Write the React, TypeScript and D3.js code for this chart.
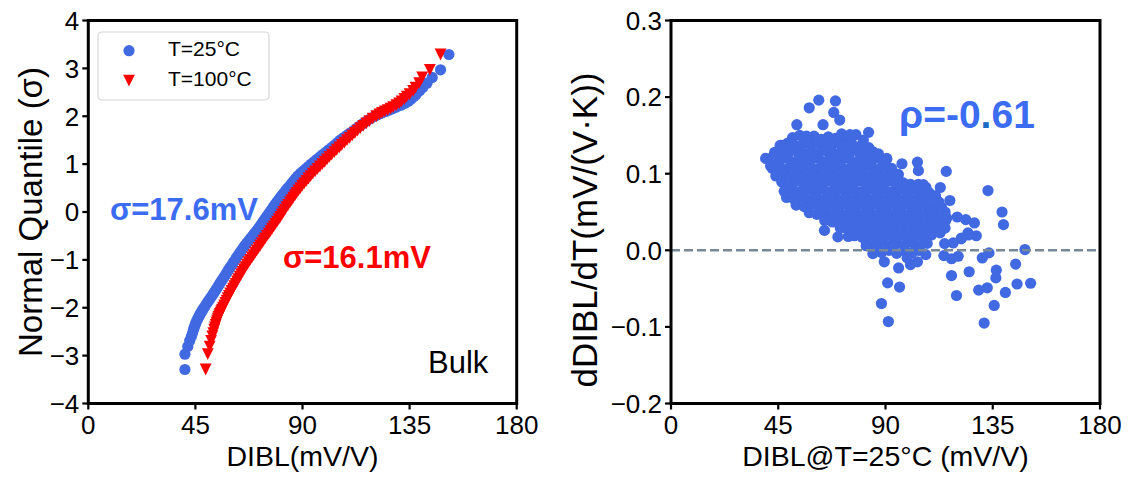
import React from 'react';
import * as d3 from 'd3';

const W = 1135;
const H = 478;
const FONT = "'Liberation Sans', Arial, Helvetica, sans-serif";

const BLUE = '#4169E1';
const BLUE_TEXT = '#3b6cf2';
const RED = '#ff0000';

// Normal quantiles (σ) of the ranked devices
const quantiles = [
  -3.29, -2.97, -2.81, -2.69, -2.6, -2.53, -2.46, -2.41, -2.36, -2.31, -2.27, -2.23, -2.19, -2.16, -2.13, -2.1, -2.07, -2.04,
  -2.0, -1.95, -1.9, -1.85, -1.8, -1.75, -1.7, -1.65, -1.6, -1.55, -1.5, -1.45, -1.4, -1.35, -1.3, -1.25, -1.2, -1.15, -1.1, -1.05,
  -1.0, -0.95, -0.9, -0.85, -0.8, -0.75, -0.7, -0.65, -0.6, -0.55, -0.5, -0.45, -0.4, -0.35, -0.3, -0.25, -0.2, -0.15, -0.1, -0.05,
  0.0, 0.05, 0.1, 0.15, 0.2, 0.25, 0.3, 0.35, 0.4, 0.45, 0.5, 0.55, 0.6, 0.65, 0.7, 0.75, 0.8, 0.85, 0.9, 0.95,
  1.0, 1.05, 1.1, 1.15, 1.2, 1.25, 1.3, 1.35, 1.4, 1.45, 1.5, 1.55, 1.6, 1.65, 1.7, 1.75, 1.8, 1.85, 1.9, 1.95, 2.0,
  2.04, 2.07, 2.1, 2.13, 2.16, 2.19, 2.23, 2.27, 2.31, 2.36, 2.41, 2.46, 2.53, 2.6, 2.69, 2.81, 2.97, 3.29,
];

// Sorted DIBL (mV/V) at T=25°C
const dibl25 = [
  40.6, 40.6, 41.8, 42.6, 43.3, 43.8, 44.2, 44.5, 44.9, 45.2, 45.6, 46.0, 46.4, 46.7, 47.0, 47.4, 47.8, 48.1,
  48.6, 49.3, 49.9, 50.6, 51.3, 52.0, 52.6, 53.3, 53.9, 54.6, 55.2, 55.8, 56.5, 57.1, 57.8, 58.4, 59.0, 59.7, 60.4, 61.0,
  61.7, 62.3, 63.0, 63.7, 64.4, 65.1, 65.8, 66.6, 67.4, 68.2, 69.0, 69.8, 70.6, 71.4, 72.1, 72.8, 73.5, 74.2, 74.9, 75.6,
  76.3, 77.0, 77.7, 78.4, 79.1, 79.9, 80.6, 81.4, 82.2, 83.0, 83.8, 84.7, 85.5, 86.3, 87.1, 88.0, 89.0, 90.2, 91.3, 92.5,
  93.6, 94.8, 96.0, 97.3, 98.5, 99.8, 101.0, 102.3, 103.5, 104.7, 105.8, 107.2, 108.6, 110.0, 111.4, 112.8, 114.2, 115.5, 117.0, 118.6, 120.3,
  122.0, 123.5, 125.0, 126.5, 128.0, 129.5, 131.3, 133.0, 134.5, 135.7, 136.8, 137.8, 139.2, 140.5, 142.3, 144.5, 148.0, 151.5,
];

// Sorted DIBL (mV/V) at T=100°C
const dibl100 = [
  49.3, 50.2, 51.0, 51.6, 52.1, 52.5, 52.9, 53.2, 53.5, 53.8, 54.1, 54.4, 54.7, 55.0, 55.3, 55.6, 55.9, 56.2,
  56.6, 57.1, 57.6, 58.1, 58.6, 59.1, 59.6, 60.2, 60.8, 61.3, 61.9, 62.5, 63.0, 63.6, 64.2, 64.8, 65.4, 66.0, 66.7, 67.3,
  68.0, 68.7, 69.4, 70.1, 70.8, 71.5, 72.2, 72.9, 73.6, 74.3, 75.0, 75.8, 76.5, 77.2, 77.9, 78.6, 79.3, 80.0, 80.7, 81.3,
  82.0, 82.6, 83.3, 84.0, 84.7, 85.4, 86.1, 86.8, 87.5, 88.3, 89.1, 89.9, 90.7, 91.6, 92.5, 93.4, 94.3, 95.3, 96.3, 97.3,
  98.3, 99.3, 100.3, 101.3, 102.3, 103.4, 104.4, 105.5, 106.5, 107.6, 108.7, 109.8, 110.9, 112.0, 113.1, 114.3, 115.5, 116.8, 118.1, 119.5, 121.0,
  122.3, 123.4, 124.6, 125.8, 127.0, 128.1, 129.4, 130.6, 131.6, 132.8, 133.8, 135.0, 136.5, 137.5, 139.0, 140.3, 143.5, 148.0,
];

// DIBL@25°C (mV/V) vs dDIBL/dT (mV/(V·K)) — isolated devices
const scatterSparse: [number, number][] = [
  [39.7, 0.12], [41.8, 0.11], [44.4, 0.099], [42.9, 0.1226], [45.8, 0.137], [52.8, 0.164], [58.0, 0.186], [62.0, 0.196],
  [69.0, 0.195], [68.3, 0.18], [70.8, 0.17], [63.8, 0.164], [71.6, 0.152], [77.6, 0.151], [82.9, 0.154], [96.9, 0.113],
  [103.4, 0.115], [103.8, 0.104], [115.5, 0.103], [113.0, 0.082], [117.0, 0.065], [133.0, 0.078], [138.9, 0.05], [139.5, 0.0335],
  [120.1, 0.0435], [123.7, 0.04], [127.3, 0.0357], [124.6, 0.0227], [128.1, 0.019], [121.7, 0.0149], [114.8, 0.0087], [118.4, 0.0096],
  [64.4, 0.026], [70.0, 0.0175], [74.4, 0.018], [148.5, 0.001], [144.6, -0.018], [136.5, -0.026], [136.3, -0.036], [133.4, -0.0034],
  [130.6, -0.01], [125.1, -0.028], [117.7, -0.033], [119.8, -0.059], [120.5, -0.0078], [117.7, -0.011], [114.5, -0.0069], [129.1, -0.052],
  [132.7, -0.049], [140.3, -0.055], [145.2, -0.044], [150.9, -0.043], [135.6, -0.072], [131.4, -0.095], [90.9, -0.0425], [95.9, -0.048],
  [88.3, -0.0695], [91.2, -0.093], [95.5, -0.023], [89.5, -0.015], [84.7, -0.0043], [100.5, -0.0186], [103.4, -0.015], [106.9, -0.0056],
  [99.1, -0.0099], [121.9, 0.016], [124.8, 0.02], [81.9, 0.006], [87.6, 0.0096], [93.3, 0.0074], [50.6, 0.14], [56.9, 0.149],
  [75.1, 0.151], [80.7, 0.144], [105.9, 0.0857], [109.4, 0.066], [113.6, 0.051], [115.7, 0.042], [115.0, 0.029], [112.9, 0.0227],
  [90.5, 0.12], [95.4, 0.099], [92.6, 0.107],
];

// DIBL@25°C (mV/V) vs dDIBL/dT (mV/(V·K)) — main population
const scatterDense: [number, number][] = [
  [51, 0.147], [54, 0.15], [57, 0.146], [60, 0.149], [63, 0.145], [66, 0.148], [69, 0.146], [73, 0.147], [75.5, 0.144],
  [46.5, 0.137], [49, 0.14], [52.3, 0.136], [55.5, 0.139], [58.6, 0.137], [61.8, 0.14], [65, 0.136], [68.2, 0.139], [71.4, 0.137],
  [74.6, 0.138], [77.8, 0.135], [80.5, 0.139], [83, 0.134],
  [43.5, 0.128], [46, 0.131], [49.2, 0.127], [52.5, 0.13], [55.7, 0.126], [58.9, 0.129], [62.1, 0.127], [65.3, 0.13], [68.6, 0.126],
  [71.8, 0.129], [75, 0.127], [78.2, 0.13], [81.4, 0.126], [84.6, 0.129], [87, 0.126],
  [41, 0.119], [44, 0.117], [47.1, 0.12], [50.3, 0.116], [53.5, 0.119], [56.7, 0.117], [60, 0.12], [63.2, 0.116], [66.4, 0.119],
  [69.6, 0.117], [72.8, 0.12], [76, 0.116], [79.3, 0.119], [82.5, 0.117], [85.7, 0.12], [88.9, 0.116], [90.5, 0.119],
  [42.5, 0.107], [45.4, 0.11], [48.6, 0.106], [51.8, 0.109], [55, 0.107], [58.2, 0.11], [61.5, 0.106], [64.7, 0.109], [67.9, 0.107],
  [71.1, 0.11], [74.3, 0.106], [77.5, 0.109], [80.8, 0.107], [84, 0.11], [87.2, 0.106], [90.4, 0.109], [92.5, 0.105],
  [44, 0.097], [46.8, 0.1], [50, 0.096], [53.2, 0.099], [56.4, 0.097], [59.6, 0.1], [62.9, 0.096], [66.1, 0.099], [69.3, 0.097],
  [72.5, 0.1], [75.7, 0.096], [79, 0.099], [82.2, 0.097], [85.4, 0.1], [88.6, 0.096], [91.8, 0.099], [94.5, 0.097],
  [46.5, 0.089], [49.4, 0.087], [52.6, 0.09], [55.8, 0.086], [59, 0.089], [62.3, 0.087], [65.5, 0.09], [68.7, 0.086], [71.9, 0.089],
  [75.1, 0.087], [78.4, 0.09], [81.6, 0.086], [84.8, 0.089], [88, 0.087], [91.2, 0.09], [94.5, 0.086], [97.5, 0.088], [100.5, 0.086],
  [103.8, 0.086], [107, 0.082],
  [47.5, 0.077], [50.5, 0.08], [53.7, 0.076], [56.9, 0.079], [60.1, 0.077], [63.4, 0.08], [66.6, 0.076], [69.8, 0.079], [73, 0.077],
  [76.2, 0.08], [79.5, 0.076], [82.7, 0.079], [85.9, 0.077], [89.1, 0.08], [92.3, 0.076], [95.6, 0.079], [98.8, 0.077], [102, 0.08],
  [105.2, 0.076], [108.4, 0.075], [111, 0.071],
  [48.5, 0.069], [51.6, 0.067], [54.8, 0.07], [58, 0.066], [61.2, 0.069], [64.5, 0.067], [67.7, 0.07], [70.9, 0.066], [74.1, 0.069],
  [77.3, 0.067], [80.6, 0.07], [83.8, 0.066], [87, 0.069], [90.2, 0.067], [93.4, 0.07], [96.7, 0.066], [99.9, 0.069], [103.1, 0.067],
  [106.3, 0.068], [109.5, 0.066], [112.4, 0.063],
  [52.5, 0.059], [55.9, 0.057], [59.1, 0.06], [62.3, 0.056], [65.6, 0.059], [68.8, 0.057], [72, 0.06], [75.2, 0.056], [78.4, 0.059],
  [81.7, 0.057], [84.9, 0.06], [88.1, 0.056], [91.3, 0.059], [94.5, 0.057], [97.8, 0.06], [101, 0.056], [104.2, 0.059], [107.4, 0.057],
  [110.6, 0.058], [113.5, 0.056],
  [58, 0.049], [61.2, 0.047], [64.4, 0.05], [67.6, 0.046], [70.8, 0.049], [74, 0.047], [77.3, 0.05], [80.5, 0.046], [83.7, 0.049],
  [86.9, 0.047], [90.1, 0.05], [93.4, 0.046], [96.6, 0.049], [99.8, 0.047], [103, 0.05], [106.2, 0.046], [109.5, 0.049], [112.7, 0.047],
  [115, 0.05],
  [64.5, 0.039], [67.7, 0.037], [70.9, 0.04], [74.1, 0.036], [77.4, 0.039], [80.6, 0.037], [83.8, 0.04], [87, 0.036], [90.2, 0.039],
  [93.5, 0.037], [96.7, 0.04], [99.9, 0.036], [103.1, 0.039], [106.3, 0.037], [109.6, 0.04], [112.8, 0.036], [115.2, 0.039],
  [71, 0.029], [74.2, 0.027], [77.5, 0.03], [80.7, 0.026], [83.9, 0.029], [87.1, 0.027], [90.3, 0.03], [93.6, 0.026], [96.8, 0.029],
  [100, 0.027], [103.2, 0.03], [106.4, 0.026], [109.7, 0.029], [112.5, 0.027],
  [77, 0.019], [80.3, 0.017], [83.5, 0.02], [86.7, 0.016], [89.9, 0.019], [93.2, 0.017], [96.4, 0.02], [99.6, 0.016], [102.8, 0.019],
  [106, 0.017], [109.3, 0.02],
  [82, 0.009], [85.2, 0.007], [88.4, 0.01], [91.6, 0.006], [94.8, 0.009], [98.1, 0.007], [101.3, 0.01], [104.5, 0.006], [107.5, 0.009],
  [85, -0.001], [88.3, -0.003], [91.5, 0.0], [94.7, -0.004], [98, -0.001], [101.2, -0.003], [104, 0.0],
];

const diblTicks = [0, 45, 90, 135, 180];
const quantileTicks = [-4, -3, -2, -1, 0, 1, 2, 3, 4];
const slopeTicks = [-0.2, -0.1, 0.0, 0.1, 0.2, 0.3];

const legendItems = [
  { label: 'T=25°C', color: BLUE, shape: 'circle' },
  { label: 'T=100°C', color: RED, shape: 'triangle' },
];

const TOP = 20.5;
const BOTTOM = 403.5;
const MARKER_R = 5.6;
const TICK_FS = 26;
const XTITLE_FS = 28.5;
const YTITLE_FS = 33;

const fmtMinus = (s: string) => s.replace('-', '\u2212');

function triPath(cx: number, cy: number, s: number) {
  return `M${cx - s},${cy - s}L${cx + s},${cy - s}L${cx},${cy + s}Z`;
}

function Frame({ x0, x1 }: { x0: number; x1: number }) {
  return (
    <rect x={x0} y={TOP} width={x1 - x0} height={BOTTOM - TOP} fill="none" stroke="#000" strokeWidth={3} />
  );
}

function XAxis({ scale, ticks }: { scale: d3.ScaleLinear<number, number>; ticks: number[] }) {
  return (
    <g>
      {ticks.map((t) => (
        <g key={t}>
          <line x1={scale(t)} x2={scale(t)} y1={BOTTOM} y2={BOTTOM + 6} stroke="#000" strokeWidth={2.2} />
          <text x={scale(t)} y={BOTTOM + 30} textAnchor="middle" fontSize={TICK_FS} fontFamily={FONT}>
            {String(t)}
          </text>
        </g>
      ))}
    </g>
  );
}

function YAxis({ scale, ticks, x0, fmt }: { scale: d3.ScaleLinear<number, number>; ticks: number[]; x0: number; fmt: (v: number) => string }) {
  return (
    <g>
      {ticks.map((t) => (
        <g key={t}>
          <line x1={x0 - 6} x2={x0} y1={scale(t)} y2={scale(t)} stroke="#000" strokeWidth={2.2} />
          <text x={x0 - 9} y={scale(t)} dy="0.36em" textAnchor="end" fontSize={TICK_FS} fontFamily={FONT}>
            {fmt(t)}
          </text>
        </g>
      ))}
    </g>
  );
}

export default function App() {
  // Left panel: normal quantile plot
  const lx = d3.scaleLinear().domain([0, 180]).range([88.3, 516.7]);
  const ly = d3.scaleLinear().domain([-4, 4]).range([BOTTOM, TOP]);
  // Right panel: temperature coefficient scatter
  const rx = d3.scaleLinear().domain([0, 180]).range([671, 1100]);
  const ry = d3.scaleLinear().domain([-0.2, 0.3]).range([BOTTOM, TOP]);

  const scatter = [...scatterDense, ...scatterSparse];

  return (
    <svg width={W} height={H} style={{ position: 'absolute', left: 0, top: 0, background: '#fff' }}>
      {/* ---------- left panel ---------- */}
      <g>
        {quantiles.map((q, i) => (
          <circle key={`b${i}`} cx={lx(dibl25[i])} cy={ly(q)} r={MARKER_R} fill={BLUE} />
        ))}
        {quantiles.map((q, i) => (
          <path key={`r${i}`} d={triPath(lx(dibl100[i]), ly(q), 5.9)} fill={RED} />
        ))}
        <Frame x0={88.3} x1={516.7} />
        <XAxis scale={lx} ticks={diblTicks} />
        <YAxis scale={ly} ticks={quantileTicks} x0={88.3} fmt={(v) => fmtMinus(String(v))} />

        <text x={110} y={220} fontSize={31} fontWeight="bold" fill={BLUE_TEXT} fontFamily={FONT}>σ=17.6mV</text>
        <text x={283} y={268} fontSize={31} fontWeight="bold" fill={RED} fontFamily={FONT}>σ=16.1mV</text>
        <text x={428} y={373} fontSize={31} fill="#000" fontFamily={FONT}>Bulk</text>

        <rect x={98} y={32} width={171} height={68} rx={4} fill="#fff" fillOpacity={0.85} stroke="#d6d6d6" strokeWidth={1.2} />
        {legendItems.map((it, i) => (
          <g key={it.label}>
            {it.shape === 'circle' ? (
              <circle cx={129} cy={50.7 + i * 30} r={MARKER_R} fill={it.color} />
            ) : (
              <path d={triPath(129, 50.7 + i * 30, 5.9)} fill={it.color} />
            )}
            <text x={168} y={56 + i * 30} fontSize={21} fontFamily={FONT}>{it.label}</text>
          </g>
        ))}

        <text x={302.5} y={466} textAnchor="middle" fontSize={XTITLE_FS} fontFamily={FONT}>DIBL(mV/V)</text>
        <text transform={`translate(42,${(TOP + BOTTOM) / 2}) rotate(-90)`} textAnchor="middle" fontSize={YTITLE_FS} fontFamily={FONT}>
          Normal Quantile (σ)
        </text>
      </g>

      {/* ---------- right panel ---------- */}
      <g>
        {scatter.map(([v, d], i) => (
          <circle key={`s${i}`} cx={rx(v)} cy={ry(d)} r={MARKER_R} fill={BLUE} />
        ))}
        <line x1={rx(0)} x2={rx(180)} y1={ry(0)} y2={ry(0)} stroke="#778899" strokeWidth={2.4} strokeDasharray="9 4" />
        <Frame x0={671} x1={1100} />
        <XAxis scale={rx} ticks={diblTicks} />
        <YAxis scale={ry} ticks={slopeTicks} x0={671} fmt={(v) => fmtMinus(v.toFixed(1))} />

        <text x={899} y={128} fontSize={39} fontWeight="bold" fill={BLUE_TEXT} fontFamily={FONT}>
          ρ=-0<tspan fill="#1a6cc4">.</tspan>61
        </text>

        <text x={885.5} y={466} textAnchor="middle" fontSize={XTITLE_FS} fontFamily={FONT}>DIBL@T=25°C (mV/V)</text>
        <text transform={`translate(597,230) rotate(-90)`} textAnchor="middle" fontSize={35} fontFamily={FONT}>
          dDIBL/dT(mV/(V·K))
        </text>
      </g>
    </svg>
  );
}
